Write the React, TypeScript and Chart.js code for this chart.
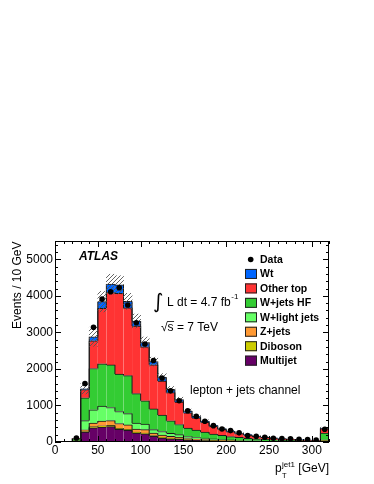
import React, { useEffect, useRef } from "react";
import { Chart, registerables } from "chart.js";

Chart.register(...registerables);

// ---- data (bins of 10 GeV, centres) ----
const binCenters = [25, 35, 45, 55, 65, 75, 85, 95, 105, 115, 125, 135, 145, 155, 165, 175, 185, 195, 205, 215, 225, 235, 245, 255, 265, 275, 285, 295, 305, 315];
const multijet = [20, 270, 390, 410, 420, 345, 320, 245, 225, 155, 110, 90, 75, 55, 45, 38, 30, 25, 20, 16, 13, 11, 9, 7, 6, 5, 4, 3, 3, 20];
const diboson = [0, 15, 30, 35, 35, 30, 28, 25, 22, 20, 18, 15, 13, 10, 9, 8, 7, 6, 5, 5, 4, 3, 3, 2, 2, 2, 1, 1, 1, 5];
const zjets = [5, 50, 100, 130, 130, 130, 120, 85, 90, 70, 60, 50, 42, 30, 25, 20, 17, 14, 11, 9, 7, 6, 5, 4, 3, 3, 2, 2, 2, 12];
const wlight = [20, 250, 360, 405, 360, 330, 310, 160, 150, 95, 100, 85, 70, 55, 45, 38, 30, 25, 20, 17, 14, 12, 10, 8, 7, 6, 5, 4, 4, 25];
const whf = [40, 625, 1130, 1160, 1165, 1025, 1040, 810, 640, 565, 450, 340, 280, 230, 200, 165, 135, 110, 92, 78, 65, 55, 46, 39, 33, 28, 24, 21, 18, 180];
const othertop = [10, 225, 760, 1520, 1980, 2210, 1850, 1850, 1480, 1210, 930, 770, 610, 420, 335, 270, 210, 165, 135, 107, 86, 69, 55, 46, 36, 29, 24, 20, 16, 125];
const wt = [5, 20, 110, 180, 230, 230, 180, 135, 115, 85, 105, 90, 70, 50, 40, 32, 26, 20, 17, 13, 11, 9, 7, 6, 5, 4, 4, 3, 2, 13];
const dataCounts = [110, 1600, 3140, 3910, 4110, 4220, 3750, 3262, 2680, 2230, 1750, 1400, 1130, 856, 700, 566, 448, 357, 312, 250, 176, 158, 131, 104, 95, 86, 77, 68, 50, 350];
const systUnc = [15, 140, 260, 280, 270, 250, 220, 190, 150, 120, 100, 80, 65, 50, 42, 35, 28, 23, 19, 16, 13, 11, 9, 8, 7, 6, 5, 4, 4, 25];

const yTickValues = [0, 1000, 2000, 3000, 4000, 5000];
const xTickValues = [0, 50, 100, 150, 200, 250, 300];

const FONT = '"Liberation Sans", Arial, Helvetica, sans-serif';

const layers = [
  { label: "Multijet", values: multijet, color: "#660066" },
  { label: "Diboson", values: diboson, color: "#cccc00" },
  { label: "Z+jets", values: zjets, color: "#ff9933" },
  { label: "W+light jets", values: wlight, color: "#66ff66" },
  { label: "W+jets HF", values: whf, color: "#33cc33" },
  { label: "Other top", values: othertop, color: "#ff3333" },
  { label: "Wt", values: wt, color: "#0066ff" },
];

function makeHatch(ctx: CanvasRenderingContext2D) {
  const s = 4;
  const c = document.createElement("canvas");
  c.width = s;
  c.height = s;
  const g = c.getContext("2d")!;
  g.strokeStyle = "#555";
  g.lineWidth = 0.9;
  g.beginPath();
  g.moveTo(-1, s + 1);
  g.lineTo(s + 1, -1);
  g.stroke();
  return ctx.createPattern(c, "repeat");
}

const decorPlugin = {
  id: "decor",
  afterDatasetDraw(chart: any, args: any) {
    // after the bottom-most stack layer is drawn, add step risers for each layer
    if (args.index !== 2) return;
    const { ctx, chartArea: ca } = chart;
    ctx.save();
    ctx.beginPath();
    ctx.rect(ca.left, ca.top, ca.width, ca.height);
    ctx.clip();
    ctx.strokeStyle = "#1a1a1a";
    ctx.lineWidth = 1;
    chart.data.datasets.forEach((ds: any, di: number) => {
      if (ds.stack !== "mc") return;
      const els = chart.getDatasetMeta(di).data;
      ctx.beginPath();
      for (let j = 0; j < els.length; j++) {
        const e = els[j];
        const left = e.x - e.width / 2;
        const right = e.x + e.width / 2;
        const prevTop = j === 0 ? e.base : els[j - 1].y;
        ctx.moveTo(left, prevTop);
        ctx.lineTo(left, e.y);
        if (j === els.length - 1) {
          ctx.moveTo(right, e.y);
          ctx.lineTo(right, e.base);
        }
      }
      ctx.stroke();
    });
    ctx.restore();
  },
  afterDraw(chart: any) {
    const { ctx, chartArea: ca, scales } = chart;
    const xs = scales.x;
    const ys = scales.y;
    ctx.save();
    // frame
    ctx.strokeStyle = "#000";
    ctx.lineWidth = 1;
    ctx.strokeRect(ca.left + 0.5, ca.top + 0.5, ca.width - 1, ca.height - 1);
    // ticks
    ctx.beginPath();
    for (let v = 0; v <= 5500; v += 200) {
      const py = Math.round(ys.getPixelForValue(v)) + 0.5;
      const len = v % 1000 === 0 ? 6 : 3;
      ctx.moveTo(ca.left, py);
      ctx.lineTo(ca.left + len, py);
      ctx.moveTo(ca.right, py);
      ctx.lineTo(ca.right - len, py);
    }
    for (let v = 0; v <= 320; v += 10) {
      const px = Math.round(xs.getPixelForValue(v)) + 0.5;
      const len = v % 50 === 0 ? 6 : 3;
      ctx.moveTo(px, ca.bottom);
      ctx.lineTo(px, ca.bottom - len);
      ctx.moveTo(px, ca.top);
      ctx.lineTo(px, ca.top + len);
    }
    ctx.stroke();

    ctx.fillStyle = "#000";
    ctx.textAlign = "left";
    ctx.textBaseline = "alphabetic";

    // ATLAS
    ctx.font = `italic bold 12px ${FONT}`;
    ctx.fillText("ATLAS", 79, 259.5);

    // luminosity
    ctx.font = `20px "DejaVu Sans"`;
    ctx.fillText("\u222B", 153, 308);
    ctx.font = `12px ${FONT}`;
    const lumi = "L dt = 4.7 fb";
    ctx.fillText(lumi, 167, 306);
    const lw = ctx.measureText(lumi).width;
    ctx.font = `8px ${FONT}`;
    ctx.fillText("-1", 167 + lw + 0.5, 299);

    // sqrt s
    ctx.font = `12px ${FONT}`;
    const rad = "\u221A";
    ctx.fillText(rad + "s = 7 TeV", 161, 331);
    const rw = ctx.measureText(rad).width;
    const sw = ctx.measureText("s").width;
    ctx.lineWidth = 0.8;
    ctx.beginPath();
    ctx.moveTo(161 + rw - 0.5, 321.5);
    ctx.lineTo(161 + rw + sw + 0.5, 321.5);
    ctx.stroke();

    // channel
    ctx.fillText("lepton + jets channel", 190, 394);

    // y title
    ctx.save();
    ctx.translate(18, 241.5);
    ctx.rotate(-Math.PI / 2);
    ctx.textAlign = "right";
    ctx.textBaseline = "middle";
    ctx.font = `12px ${FONT}`;
    ctx.fillText("Events / 10 GeV", 0, 0);
    ctx.restore();

    // x title
    ctx.font = `12px ${FONT}`;
    const wp = ctx.measureText("p").width;
    const rest = " [GeV]";
    const wr = ctx.measureText(rest).width;
    ctx.font = `8px ${FONT}`;
    const wsup = ctx.measureText("jet1").width;
    const total = wp + 0.5 + wsup + wr;
    const sx = 329 - total;
    ctx.font = `12px ${FONT}`;
    ctx.fillText("p", sx, 472);
    ctx.fillText(rest, sx + wp + 0.5 + wsup, 472);
    ctx.font = `8px ${FONT}`;
    ctx.fillText("jet1", sx + wp + 0.5, 466.5);
    ctx.font = `7.5px ${FONT}`;
    ctx.fillText("T", sx + wp + 0.3, 477.5);

    // legend
    const rowY0 = 259.5;
    const rowStep = 14.45;
    ctx.font = `bold 10.5px ${FONT}`;
    ctx.textBaseline = "middle";
    ctx.beginPath();
    ctx.arc(250.7, rowY0, 2.8, 0, Math.PI * 2);
    ctx.fill();
    ctx.fillText("Data", 260, rowY0 + 0.5);
    const stackSets = chart.data.datasets.filter((d: any) => d.stack === "mc").slice().reverse();
    stackSets.forEach((d: any, i: number) => {
      const cy = rowY0 + rowStep * (i + 1);
      ctx.fillStyle = d.backgroundColor;
      ctx.fillRect(245, cy - 5, 12, 10);
      ctx.strokeStyle = "#222";
      ctx.lineWidth = 1;
      ctx.strokeRect(245.5, cy - 4.5, 11, 9);
      ctx.fillStyle = "#000";
      ctx.fillText(d.label, 260, cy + 0.5);
    });
    ctx.restore();
  },
};

export default function App() {
  const ref = useRef<HTMLCanvasElement>(null);
  useEffect(() => {
    const canvas = ref.current!;
    const ctx = canvas.getContext("2d")!;
    const hatch = makeHatch(ctx);
    const totals = binCenters.map((_, i) => layers.reduce((s, l) => s + l.values[i], 0));

    const datasets: any[] = [
      {
        type: "line",
        label: "Data",
        data: binCenters.map((x, i) => ({ x, y: dataCounts[i] })),
        showLine: false,
        pointRadius: 2.8,
        pointBackgroundColor: "#000",
        pointBorderColor: "#000",
        pointBorderWidth: 0,
        yAxisID: "y2",
        order: 0,
      },
      {
        type: "bar",
        label: "Uncertainty",
        data: binCenters.map((x, i) => ({ x, y: [totals[i] - systUnc[i], totals[i] + systUnc[i]] })),
        backgroundColor: hatch,
        borderWidth: 0,
        yAxisID: "y2",
        grouped: false,
        barPercentage: 1,
        categoryPercentage: 1,
        order: 1,
      },
      ...layers.map((l) => ({
        type: "bar",
        label: l.label,
        data: binCenters.map((x, i) => ({ x, y: l.values[i] })),
        backgroundColor: l.color,
        borderColor: "#1a1a1a",
        borderWidth: { top: 1, left: 0, right: 0, bottom: 0 },
        borderSkipped: false,
        yAxisID: "y",
        stack: "mc",
        grouped: false,
        barPercentage: 1,
        categoryPercentage: 1,
        order: 2,
      })),
    ];

    const chart = new Chart(canvas, {
      type: "bar",
      data: { datasets },
      plugins: [decorPlugin],
      options: {
        responsive: false,
        animation: false,
        devicePixelRatio: 1,
        layout: { padding: { top: 241, right: 45, left: 0, bottom: 0 } },
        plugins: { legend: { display: false }, tooltip: { enabled: false } },
        scales: {
          x: {
            type: "linear",
            min: 0,
            max: 320,
            offset: false,
            grid: { display: false, drawTicks: false, tickLength: 0 },
            border: { display: false },
            afterFit: (s: any) => {
              s.height = 42;
            },
            afterBuildTicks: (s: any) => {
              s.ticks = xTickValues.map((v) => ({ value: v }));
            },
            ticks: {
              padding: 1.5,
              maxRotation: 0,
              autoSkip: false,
              color: "#000",
              font: { family: FONT, size: 12 },
              callback: (v: any) => String(v),
            },
          },
          y: {
            type: "linear",
            min: 0,
            max: 5500,
            stacked: true,
            grid: { display: false, drawTicks: false, tickLength: 0 },
            border: { display: false },
            afterFit: (s: any) => {
              s.width = 55;
            },
            afterBuildTicks: (s: any) => {
              s.ticks = yTickValues.map((v) => ({ value: v }));
            },
            ticks: {
              padding: 2,
              autoSkip: false,
              color: "#000",
              font: { family: FONT, size: 12 },
              callback: (v: any) => String(v),
            },
          },
          y2: {
            type: "linear",
            min: 0,
            max: 5500,
            stacked: false,
            display: false,
          },
        },
      } as any,
    } as any);
    return () => chart.destroy();
  }, []);

  return (
    <div style={{ position: "absolute", left: 0, top: 0, width: 374, height: 484, background: "#fff" }}>
      <canvas ref={ref} width={374} height={484} style={{ display: "block", width: 374, height: 484 }} />
    </div>
  );
}
